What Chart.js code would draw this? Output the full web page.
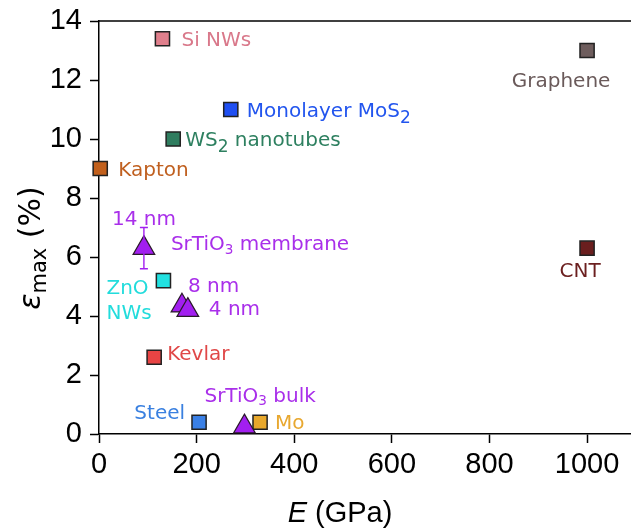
<!DOCTYPE html>
<html>
<head>
<meta charset="utf-8">
<script src="https://cdn.jsdelivr.net/npm/chart.js@4/dist/chart.umd.min.js"></script>
<style>
  html, body { margin: 0; padding: 0; background: #ffffff; }
  canvas { display: block; }
</style>
</head>
<body>
<canvas id="chart" width="631" height="529"></canvas>
<script>
// Reference materials: Young's modulus E (GPa) vs. maximum elastic strain (%)
const materials   = ['Si NWs', 'Monolayer MoS_{2}', 'WS_{2} nanotubes', 'Kapton', 'Graphene', 'CNT', 'ZnO\nNWs', 'Kevlar', 'Steel', 'Mo'];
const modulusGPa  = [130, 270, 152, 2.5, 1000, 1000, 132, 113, 205, 330];
const strainPct   = [13.4, 11.0, 10.0, 9.0, 13.0, 6.3, 5.2, 2.6, 0.4, 0.4];

// SrTiO3 membranes of different thickness and bulk SrTiO3
const stoLabels     = ['14 nm', '8 nm', '4 nm', 'SrTiO_{3} bulk'];
const stoModulusGPa = [92, 170, 182, 298];
const stoStrainPct  = [6.3, 4.35, 4.2, 0.25];
const stoStrainErr  = [0.7, 0, 0, 0];

// Axis ticks
const xTicks = [0, 200, 400, 600, 800, 1000];
const yTicks = [0, 2, 4, 6, 8, 10, 12, 14];

// ---- styling ----
const materialColors = ['#e07f8c', '#1f4ff2', '#2f7d5f', '#c2601c', '#6e5d5d', '#6a1e1e', '#22e0e0', '#e84444', '#3a80e6', '#e8a82c'];
const materialText   = ['#d9788a', '#2255ee', '#2e8060', '#c06020', '#6a5a5a', '#6b1f1f', '#22dcdc', '#e04848', '#3a80e0', '#e8a830'];
const stoColor = '#a21ff0';
const stoText  = '#a92fea';

// label placement relative to the marker (px)
const materialLabelPos = [
  { dx: 19, dy: 0, align: 'left' },
  { dx: 16, dy: 0, align: 'left' },
  { dx: 12, dy: 0, align: 'left' },
  { dx: 18, dy: 0, align: 'left' },
  { dx: -26, dy: 29, align: 'center' },
  { dx: -7, dy: 22, align: 'center' },
  { dx: -57, dy: 6, align: 'left', lineGap: 25 },
  { dx: 13, dy: -5, align: 'left' },
  { dx: -14, dy: -10, align: 'right' },
  { dx: 15, dy: 0, align: 'left' }
];
const stoLabelPos = [
  { dx: 0, dy: -30, align: 'center' },
  { dx: 6, dy: -21, align: 'left' },
  { dx: 21, dy: -2, align: 'left' },
  { dx: -40, dy: -32, align: 'left' }
];
const membraneNote = { text: 'SrTiO_{3} membrane', dx: 27, dy: -5 };

const LABEL_FONT = '"DejaVu Sans", Verdana, sans-serif';
const LABEL_SIZE = 20;

// parse "abc_{x}def" into plain / subscript runs
function parseRich(str) {
  const out = [];
  const re = /_\{([^}]*)\}/g;
  let last = 0, m;
  while ((m = re.exec(str)) !== null) {
    if (m.index > last) out.push({ t: str.slice(last, m.index), sub: false });
    out.push({ t: m[1], sub: true });
    last = re.lastIndex;
  }
  if (last < str.length) out.push({ t: str.slice(last), sub: false });
  return out;
}

function drawRich(ctx, str, x, y, align, color, size) {
  const runs = parseRich(str);
  const isSto = str.indexOf('SrTi') === 0;
  const subScale = isSto ? 0.68 : 0.85;
  const subDrop  = isSto ? 0.16 : 0.30;
  let total = 0;
  runs.forEach(r => {
    ctx.font = (r.sub ? size * subScale : size) + 'px ' + LABEL_FONT;
    r.w = ctx.measureText(r.t).width;
    total += r.w;
  });
  let cx = x;
  if (align === 'center') cx = x - total / 2;
  else if (align === 'right') cx = x - total;
  ctx.fillStyle = color;
  ctx.textAlign = 'left';
  ctx.textBaseline = 'alphabetic';
  const base = y + size * 0.36;
  runs.forEach(r => {
    ctx.font = (r.sub ? size * subScale : size) + 'px ' + LABEL_FONT;
    ctx.fillText(r.t, cx, r.sub ? base + size * subDrop : base);
    cx += r.w;
  });
}

const annotations = {
  id: 'annotations',
  afterDatasetsDraw(chart) {
    const ctx = chart.ctx;
    const area = chart.chartArea;
    const xs = chart.scales.x, ys = chart.scales.y;

    // top frame line
    ctx.save();
    ctx.strokeStyle = '#000';
    ctx.lineWidth = 1.5;
    ctx.beginPath();
    ctx.moveTo(area.left, area.top);
    ctx.lineTo(area.right, area.top);
    ctx.stroke();

    // error bars on SrTiO3 membranes
    ctx.strokeStyle = stoColor;
    ctx.lineWidth = 1.4;
    stoStrainErr.forEach((err, i) => {
      if (!err) return;
      const px = xs.getPixelForValue(stoModulusGPa[i]);
      const y1 = ys.getPixelForValue(stoStrainPct[i] + err);
      const y2 = ys.getPixelForValue(stoStrainPct[i] - err);
      ctx.beginPath();
      ctx.moveTo(px, y1); ctx.lineTo(px, y2);
      ctx.moveTo(px - 4, y1); ctx.lineTo(px + 4, y1);
      ctx.moveTo(px - 4, y2); ctx.lineTo(px + 4, y2);
      ctx.stroke();
    });

    // material labels
    const matMeta = chart.getDatasetMeta(1);
    materials.forEach((name, i) => {
      const pt = matMeta.data[i];
      const p = materialLabelPos[i];
      const lines = name.split('\n');
      lines.forEach((ln, k) => {
        drawRich(ctx, ln, pt.x + p.dx, pt.y + p.dy + k * (p.lineGap || 0), p.align, materialText[i], LABEL_SIZE);
      });
    });

    // SrTiO3 labels
    const stoMeta = chart.getDatasetMeta(0);
    stoLabels.forEach((name, i) => {
      const pt = stoMeta.data[i];
      const p = stoLabelPos[i];
      drawRich(ctx, name, pt.x + p.dx, pt.y + p.dy, p.align, stoText, LABEL_SIZE);
    });
    const m0 = stoMeta.data[0];
    drawRich(ctx, membraneNote.text, m0.x + membraneNote.dx, m0.y + membraneNote.dy, 'left', stoText, LABEL_SIZE);

    // x axis title: italic E (GPa)
    const mid = (xs.getPixelForValue(0) + xs.getPixelForValue(1000)) / 2 - 3;
    ctx.fillStyle = '#000';
    ctx.textBaseline = 'alphabetic';
    ctx.textAlign = 'left';
    const xf = 29;
    ctx.font = 'italic ' + xf + 'px "Liberation Sans", Arial, sans-serif';
    const wE = ctx.measureText('E').width;
    ctx.font = xf + 'px "Liberation Sans", Arial, sans-serif';
    const wRest = ctx.measureText(' (GPa)').width;
    let sx = mid - (wE + wRest) / 2;
    ctx.font = 'italic ' + xf + 'px "Liberation Sans", Arial, sans-serif';
    ctx.fillText('E', sx, 522);
    ctx.font = xf + 'px "Liberation Sans", Arial, sans-serif';
    ctx.fillText(' (GPa)', sx + wE, 522);

    // y axis title: ε_max (%)
    ctx.save();
    ctx.translate(40, 248);
    ctx.rotate(-Math.PI / 2);
    const yf = 30, yfs = 21;
    const yfont = '"DejaVu Sans", sans-serif';
    const parts = [
      { t: '\u03B5', f: 'italic ' + yf + 'px ' + yfont, d: 0 },
      { t: 'max', f: yfs + 'px ' + yfont, d: 6 },
      { t: ' (%)', f: yf + 'px ' + yfont, d: 0 }
    ];
    let tw = 0;
    parts.forEach(q => { ctx.font = q.f; q.w = ctx.measureText(q.t).width; tw += q.w; });
    let tx = -tw / 2;
    parts.forEach(q => { ctx.font = q.f; ctx.fillText(q.t, tx, q.d); tx += q.w; });
    ctx.restore();

    ctx.restore();
  }
};

const tickFont = { family: '"Liberation Sans", Arial, sans-serif', size: 29 };

new Chart(document.getElementById('chart'), {
  type: 'scatter',
  data: {
    datasets: [
      {
        label: 'SrTiO3',
        data: stoModulusGPa.map((e, i) => ({ x: e, y: stoStrainPct[i] })),
        pointStyle: 'triangle',
        pointRadius: 12.5,
        pointHoverRadius: 12.5,
        backgroundColor: stoColor,
        borderColor: '#2a1a2a',
        borderWidth: 1.2,
        clip: false
      },
      {
        label: 'Materials',
        data: modulusGPa.map((e, i) => ({ x: e, y: strainPct[i] })),
        pointStyle: 'rect',
        pointRadius: 10,
        pointHoverRadius: 10,
        backgroundColor: materialColors,
        borderColor: '#222222',
        borderWidth: 1.5,
        clip: false
      }
    ]
  },
  options: {
    responsive: false,
    devicePixelRatio: 1,
    animation: false,
    events: [],
    layout: { autoPadding: false, padding: { top: 21, right: 0, left: 0, bottom: 0 } },
    plugins: { legend: { display: false }, tooltip: { enabled: false } },
    scales: {
      x: {
        type: 'linear',
        min: 0,
        max: 1090,
        afterBuildTicks: axis => { axis.ticks = xTicks.map(v => ({ value: v })); },
        afterFit: axis => { axis.height = 95; axis.paddingLeft = 0; axis.paddingRight = 0; },
        ticks: { font: tickFont, color: '#000', padding: 5, maxRotation: 0, autoSkip: false, callback: v => String(v) },
        grid: { drawOnChartArea: false, drawTicks: true, tickLength: 9, tickColor: '#000', tickWidth: 1.5 },
        border: { display: true, color: '#000', width: 1.5 }
      },
      y: {
        type: 'linear',
        min: 0,
        max: 14,
        afterBuildTicks: axis => { axis.ticks = yTicks.map(v => ({ value: v })); },
        afterFit: axis => { axis.width = 99; axis.paddingTop = 0; axis.paddingBottom = 0; },
        ticks: { font: tickFont, color: '#000', padding: 8, autoSkip: false, callback: v => String(v) },
        grid: { drawOnChartArea: false, drawTicks: true, tickLength: 9, tickColor: '#000', tickWidth: 1.5 },
        border: { display: true, color: '#000', width: 1.5 }
      }
    }
  },
  plugins: [annotations]
});
</script>
</body>
</html>
